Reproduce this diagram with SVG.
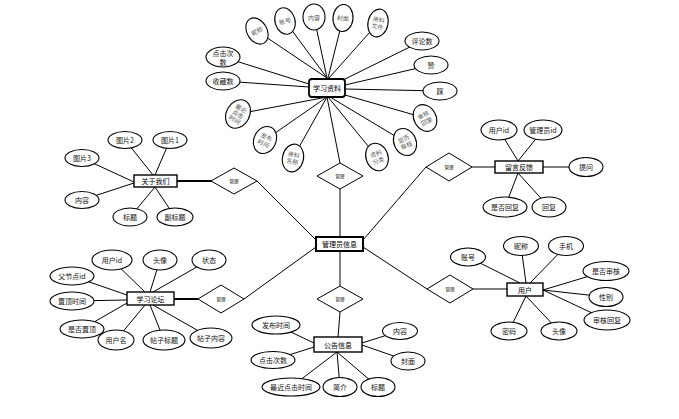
<svg xmlns="http://www.w3.org/2000/svg" width="679" height="419" viewBox="0 0 679 419">
<style>
.c{stroke:#000;stroke-width:1;fill:none}
.ck{stroke:#000;stroke-width:2;fill:none}
.e{fill:#fff;stroke:#000;stroke-width:1.1}
.r{fill:#fff;stroke:#000;stroke-width:1.4}
.d{fill:#fff;stroke:#000;stroke-width:1}
.t{font-family:"Noto Sans CJK SC","Noto Sans",sans-serif;font-size:7px;fill:#111;text-anchor:middle;dominant-baseline:central}
.n{font-family:"Noto Sans CJK SC","Noto Sans",sans-serif;font-size:7px;fill:#000;text-anchor:middle;dominant-baseline:central}
.g{font-family:"Noto Sans CJK SC","Noto Sans",sans-serif;font-size:6px;fill:#555;text-anchor:middle;dominant-baseline:central}
.s{font-family:"Noto Sans CJK SC","Noto Sans",sans-serif;font-size:4.5px;fill:#000;text-anchor:middle;dominant-baseline:central}
</style>
<rect width="679" height="419" fill="#fff"/>
<g id="connectors">
<!-- 学习资料 -->
<line class="c" x1="257" y1="31" x2="327" y2="78"/>
<line class="c" x1="285" y1="21" x2="327" y2="78"/>
<line class="c" x1="314" y1="17" x2="327" y2="78"/>
<line class="c" x1="343" y1="18" x2="328" y2="78"/>
<line class="c" x1="378" y1="23" x2="329" y2="78"/>
<line class="c" x1="223" y1="57" x2="309" y2="84"/>
<line class="c" x1="223" y1="81" x2="309" y2="87"/>
<line class="c" x1="422" y1="41" x2="343" y2="80"/>
<line class="c" x1="431" y1="65" x2="345" y2="85"/>
<line class="c" x1="440" y1="91" x2="345" y2="89"/>
<line class="c" x1="238" y1="114" x2="327" y2="97"/>
<line class="c" x1="265" y1="140" x2="327" y2="97"/>
<line class="c" x1="293" y1="158" x2="327" y2="97"/>
<line class="c" x1="377" y1="157" x2="328" y2="97"/>
<line class="c" x1="405" y1="142" x2="330" y2="97"/>
<line class="c" x1="425" y1="118" x2="345" y2="95"/>
<line class="c" x1="327" y1="97" x2="340" y2="163"/>
<line class="c" x1="340" y1="189" x2="340" y2="237"/>
<line class="c" x1="340" y1="251" x2="340" y2="286"/>
<line class="c" x1="340" y1="312" x2="338" y2="337"/>
<!-- 关于我们 -->
<line class="c" x1="125" y1="140" x2="153" y2="175"/>
<line class="c" x1="170" y1="140" x2="155" y2="175"/>
<line class="c" x1="82" y1="158" x2="134" y2="182"/>
<line class="c" x1="82" y1="200" x2="134" y2="183"/>
<line class="c" x1="130" y1="217" x2="155" y2="187"/>
<line class="c" x1="175" y1="217" x2="155" y2="187"/>
<line class="ck" x1="177" y1="181" x2="212" y2="181"/>
<line class="c" x1="257" y1="181" x2="316" y2="240"/>
<!-- 留言反馈 -->
<line class="c" x1="499" y1="130" x2="518" y2="161"/>
<line class="c" x1="543" y1="130" x2="518" y2="161"/>
<line class="c" x1="586" y1="167" x2="543" y2="167"/>
<line class="c" x1="505" y1="207" x2="518" y2="173"/>
<line class="c" x1="549" y1="207" x2="518" y2="173"/>
<line class="c" x1="472" y1="167" x2="495" y2="167"/>
<line class="c" x1="426" y1="167" x2="363" y2="240"/>
<!-- 学习论坛 -->
<line class="c" x1="112" y1="260" x2="145" y2="292"/>
<line class="c" x1="160" y1="260" x2="150" y2="292"/>
<line class="c" x1="209" y1="260" x2="153" y2="292"/>
<line class="c" x1="72" y1="276" x2="127" y2="295"/>
<line class="c" x1="72" y1="301" x2="127" y2="300"/>
<line class="c" x1="82" y1="329" x2="127" y2="303"/>
<line class="c" x1="116" y1="340" x2="145" y2="305"/>
<line class="c" x1="164" y1="340" x2="150" y2="305"/>
<line class="c" x1="211" y1="338" x2="153" y2="305"/>
<line class="ck" x1="174" y1="299" x2="198" y2="299"/>
<line class="c" x1="244" y1="299" x2="316" y2="247"/>
<!-- 用户 -->
<line class="c" x1="468" y1="257" x2="520" y2="283"/>
<line class="c" x1="521" y1="246" x2="526" y2="283"/>
<line class="c" x1="566" y1="246" x2="530" y2="283"/>
<line class="c" x1="606" y1="271" x2="543" y2="290"/>
<line class="c" x1="606" y1="297" x2="543" y2="290"/>
<line class="c" x1="607" y1="320" x2="543" y2="290"/>
<line class="c" x1="509" y1="331" x2="526" y2="296"/>
<line class="c" x1="559" y1="331" x2="526" y2="296"/>
<line class="c" x1="473" y1="289" x2="507" y2="289"/>
<line class="c" x1="427" y1="289" x2="363" y2="247"/>
<!-- 公告信息 -->
<line class="c" x1="276" y1="325" x2="314" y2="343"/>
<line class="c" x1="273" y1="360" x2="314" y2="347"/>
<line class="c" x1="291" y1="387" x2="337" y2="352"/>
<line class="c" x1="340" y1="387" x2="337" y2="352"/>
<line class="c" x1="378" y1="387" x2="337" y2="352"/>
<line class="c" x1="400" y1="331" x2="362" y2="343"/>
<line class="c" x1="408" y1="361" x2="362" y2="345"/>
</g>
<!-- relationships -->
<g id="rel-xuexiziliao"><polygon class="d" points="340,163 363,176 340,189 317,176"/><text class="s" x="340" y="176">管理</text></g>
<g id="rel-guanyuwomen"><polygon class="d" points="234,168 257,181 234,194 211,181"/><text class="s" x="234" y="181">管理</text></g>
<g id="rel-liuyanfankui"><polygon class="d" points="449,153 472,167 449,181 426,167"/><text class="s" x="449" y="167">管理</text></g>
<g id="rel-xuexiluntan"><polygon class="d" points="221,285 244,299 221,313 198,299"/><text class="s" x="221" y="299">管理</text></g>
<g id="rel-yonghu"><polygon class="d" points="450,275 473,289 450,303 427,289"/><text class="s" x="450" y="289">管理</text></g>
<g id="rel-gonggao"><polygon class="d" points="340,286 363,299 340,312 317,299"/><text class="s" x="340" y="299">管理</text></g>
<!-- entities -->
<g id="ent-admin"><rect x="316" y="237" width="47" height="14" fill="#fff" stroke="#000" stroke-width="2"/><text class="n" x="339.5" y="244" font-size="7.5">管理员信息</text></g>
<g id="ent-xuexiziliao"><rect x="309" y="79" width="36" height="18" rx="3" fill="#fff" stroke="#000" stroke-width="1.8"/><text class="n" x="327" y="88" font-size="7.5">学习资料</text></g>
<g id="ent-guanyuwomen"><rect class="r" x="134" y="175" width="43" height="12"/><text class="n" x="155.5" y="181">关于我们</text></g>
<g id="ent-liuyanfankui"><rect class="r" x="495" y="161" width="48" height="12"/><text class="n" x="519" y="167">留言反馈</text></g>
<g id="ent-xuexiluntan"><rect class="r" x="127" y="292" width="47" height="13"/><text class="n" x="150.5" y="298.5">学习论坛</text></g>
<g id="ent-yonghu"><rect class="r" x="507" y="283" width="36" height="13"/><text class="n" x="525" y="289.5">用户</text></g>
<g id="ent-gonggao"><rect class="r" x="314" y="337" width="48" height="15"/><text class="n" x="338" y="344.5">公告信息</text></g>
<!-- 学习资料 attributes -->
<g id="a-zl-nicheng" transform="translate(257,31) rotate(-30)"><ellipse class="e" rx="10" ry="14"/><text class="g">昵称</text></g>
<g id="a-zl-zhanghao" transform="translate(285,21) rotate(-15)"><ellipse class="e" rx="10" ry="13.5"/><text class="g">账号</text></g>
<g id="a-zl-neirong" transform="translate(314,17)"><ellipse class="e" rx="11" ry="13"/><text class="g">内容</text></g>
<g id="a-zl-fengmian" transform="translate(343,18) rotate(5)"><ellipse class="e" rx="10" ry="13.5"/><text class="g">封面</text></g>
<g id="a-zl-wenjian" transform="translate(378,23) rotate(12)"><ellipse class="e" rx="10" ry="14"/><text class="g" y="-3.5">资料</text><text class="g" y="3.5">文件</text></g>
<g id="a-zl-dianji"><ellipse class="e" cx="223" cy="57" rx="17" ry="10"/><text class="t" x="223" y="53" font-size="6.3">点击次</text><text class="t" x="223" y="61.5" font-size="6.3">数</text></g>
<g id="a-zl-shoucang"><ellipse class="e" cx="223" cy="81" rx="17" ry="9"/><text class="t" x="223" y="81">收藏数</text></g>
<g id="a-zl-pinglun"><ellipse class="e" cx="422" cy="41" rx="17" ry="9"/><text class="t" x="422" y="41">评论数</text></g>
<g id="a-zl-zan"><ellipse class="e" cx="431" cy="65" rx="17" ry="9"/><text class="t" x="431" y="65">赞</text></g>
<g id="a-zl-cai"><ellipse class="e" cx="440" cy="91" rx="17" ry="9"/><text class="t" x="440" y="91">踩</text></g>
<g id="a-zl-zuijin" transform="translate(238,114) rotate(30)"><ellipse class="e" rx="11.5" ry="15"/><text class="g" y="-6.5">最近</text><text class="g" y="0">点击</text><text class="g" y="6.5">时间</text></g>
<g id="a-zl-fabu" transform="translate(265,140) rotate(25)"><ellipse class="e" rx="11" ry="14"/><text class="g" y="-3.5">发布</text><text class="g" y="3.5">时间</text></g>
<g id="a-zl-mingcheng" transform="translate(293,158) rotate(12)"><ellipse class="e" rx="10.5" ry="14"/><text class="g" y="-3.5">资料</text><text class="g" y="3.5">名称</text></g>
<g id="a-zl-fenlei" transform="translate(377,157) rotate(-20)"><ellipse class="e" rx="11" ry="14"/><text class="g" y="-3.5">资料</text><text class="g" y="3.5">分类</text></g>
<g id="a-zl-shenhe" transform="translate(405,142) rotate(-25)"><ellipse class="e" rx="11" ry="14"/><text class="g" y="-3.5">是否</text><text class="g" y="3.5">审核</text></g>
<g id="a-zl-huifu" transform="translate(425,118) rotate(-30)"><ellipse class="e" rx="11" ry="14"/><text class="g" y="-3.5">审核</text><text class="g" y="3.5">回复</text></g>
<!-- 关于我们 attributes -->
<g id="a-gy-tp2"><ellipse class="e" cx="125" cy="140" rx="17" ry="8.5"/><text class="t" x="125" y="140">图片2</text></g>
<g id="a-gy-tp1"><ellipse class="e" cx="170" cy="140" rx="17" ry="8.5"/><text class="t" x="170" y="140">图片1</text></g>
<g id="a-gy-tp3"><ellipse class="e" cx="82" cy="158" rx="17" ry="8.5"/><text class="t" x="82" y="158">图片3</text></g>
<g id="a-gy-nr"><ellipse class="e" cx="82" cy="200" rx="17" ry="8.5"/><text class="t" x="82" y="200">内容</text></g>
<g id="a-gy-bt"><ellipse class="e" cx="130" cy="217" rx="17" ry="9"/><text class="t" x="130" y="217">标题</text></g>
<g id="a-gy-fbt"><ellipse class="e" cx="175" cy="217" rx="18" ry="9"/><text class="t" x="175" y="217">副标题</text></g>
<!-- 留言反馈 attributes -->
<g id="a-ly-yhid"><ellipse class="e" cx="499" cy="130" rx="18" ry="10"/><text class="t" x="499" y="130">用户id</text></g>
<g id="a-ly-glyid"><ellipse class="e" cx="543" cy="130" rx="19" ry="10"/><text class="t" x="543" y="130">管理员id</text></g>
<g id="a-ly-tw"><ellipse class="e" cx="586" cy="167" rx="17" ry="9.5"/><text class="t" x="586" y="167">提问</text></g>
<g id="a-ly-sfhf"><ellipse class="e" cx="505" cy="207" rx="22" ry="10"/><text class="t" x="505" y="207">是否回复</text></g>
<g id="a-ly-hf"><ellipse class="e" cx="549" cy="207" rx="17" ry="10"/><text class="t" x="549" y="207">回复</text></g>
<!-- 学习论坛 attributes -->
<g id="a-lt-yhid"><ellipse class="e" cx="112" cy="260" rx="20" ry="10"/><text class="t" x="112" y="260">用户id</text></g>
<g id="a-lt-tx"><ellipse class="e" cx="160" cy="260" rx="17" ry="10"/><text class="t" x="160" y="260">头像</text></g>
<g id="a-lt-zt"><ellipse class="e" cx="209" cy="260" rx="17" ry="10"/><text class="t" x="209" y="260">状态</text></g>
<g id="a-lt-fjd"><ellipse class="e" cx="72" cy="276" rx="22" ry="9"/><text class="t" x="72" y="276">父节点id</text></g>
<g id="a-lt-zdsj"><ellipse class="e" cx="72" cy="301" rx="22" ry="9"/><text class="t" x="72" y="301">置顶时间</text></g>
<g id="a-lt-sfzd"><ellipse class="e" cx="82" cy="329" rx="22" ry="9"/><text class="t" x="82" y="329">是否置顶</text></g>
<g id="a-lt-yhm"><ellipse class="e" cx="116" cy="340" rx="18" ry="10"/><text class="t" x="116" y="340">用户名</text></g>
<g id="a-lt-tzbt"><ellipse class="e" cx="164" cy="340" rx="21" ry="10"/><text class="t" x="164" y="340">帖子标题</text></g>
<g id="a-lt-tznr"><ellipse class="e" cx="211" cy="338" rx="21" ry="10"/><text class="t" x="211" y="338">帖子内容</text></g>
<!-- 用户 attributes -->
<g id="a-yh-zh"><ellipse class="e" cx="468" cy="257" rx="17.5" ry="9"/><text class="t" x="468" y="257">账号</text></g>
<g id="a-yh-nc"><ellipse class="e" cx="521" cy="246" rx="17.5" ry="9.5"/><text class="t" x="521" y="246">昵称</text></g>
<g id="a-yh-sj"><ellipse class="e" cx="566" cy="246" rx="17.5" ry="9.5"/><text class="t" x="566" y="246">手机</text></g>
<g id="a-yh-sfsh"><ellipse class="e" cx="606" cy="271" rx="23" ry="9.5"/><text class="t" x="606" y="271">是否审核</text></g>
<g id="a-yh-xb"><ellipse class="e" cx="606" cy="297" rx="17" ry="9.5"/><text class="t" x="606" y="297">性别</text></g>
<g id="a-yh-shhf"><ellipse class="e" cx="607" cy="320" rx="23" ry="10"/><text class="t" x="607" y="320">审核回复</text></g>
<g id="a-yh-mm"><ellipse class="e" cx="509" cy="331" rx="18" ry="9"/><text class="t" x="509" y="331">密码</text></g>
<g id="a-yh-tx"><ellipse class="e" cx="559" cy="331" rx="18" ry="9"/><text class="t" x="559" y="331">头像</text></g>
<!-- 公告信息 attributes -->
<g id="a-gg-fbsj"><ellipse class="e" cx="276" cy="325" rx="24" ry="9"/><text class="t" x="276" y="325">发布时间</text></g>
<g id="a-gg-djcs"><ellipse class="e" cx="273" cy="360" rx="22" ry="8.5"/><text class="t" x="273" y="360">点击次数</text></g>
<g id="a-gg-zjdj"><ellipse class="e" cx="291" cy="387" rx="29" ry="9"/><text class="t" x="291" y="387">最近点击时间</text></g>
<g id="a-gg-jj"><ellipse class="e" cx="340" cy="387" rx="17" ry="9.5"/><text class="t" x="340" y="387">简介</text></g>
<g id="a-gg-bt"><ellipse class="e" cx="378" cy="387" rx="17" ry="9.5"/><text class="t" x="378" y="387">标题</text></g>
<g id="a-gg-nr"><ellipse class="e" cx="400" cy="331" rx="17.5" ry="8.5"/><text class="t" x="400" y="331">内容</text></g>
<g id="a-gg-fm"><ellipse class="e" cx="408" cy="361" rx="17" ry="9"/><text class="t" x="408" y="361">封面</text></g>
</svg>
